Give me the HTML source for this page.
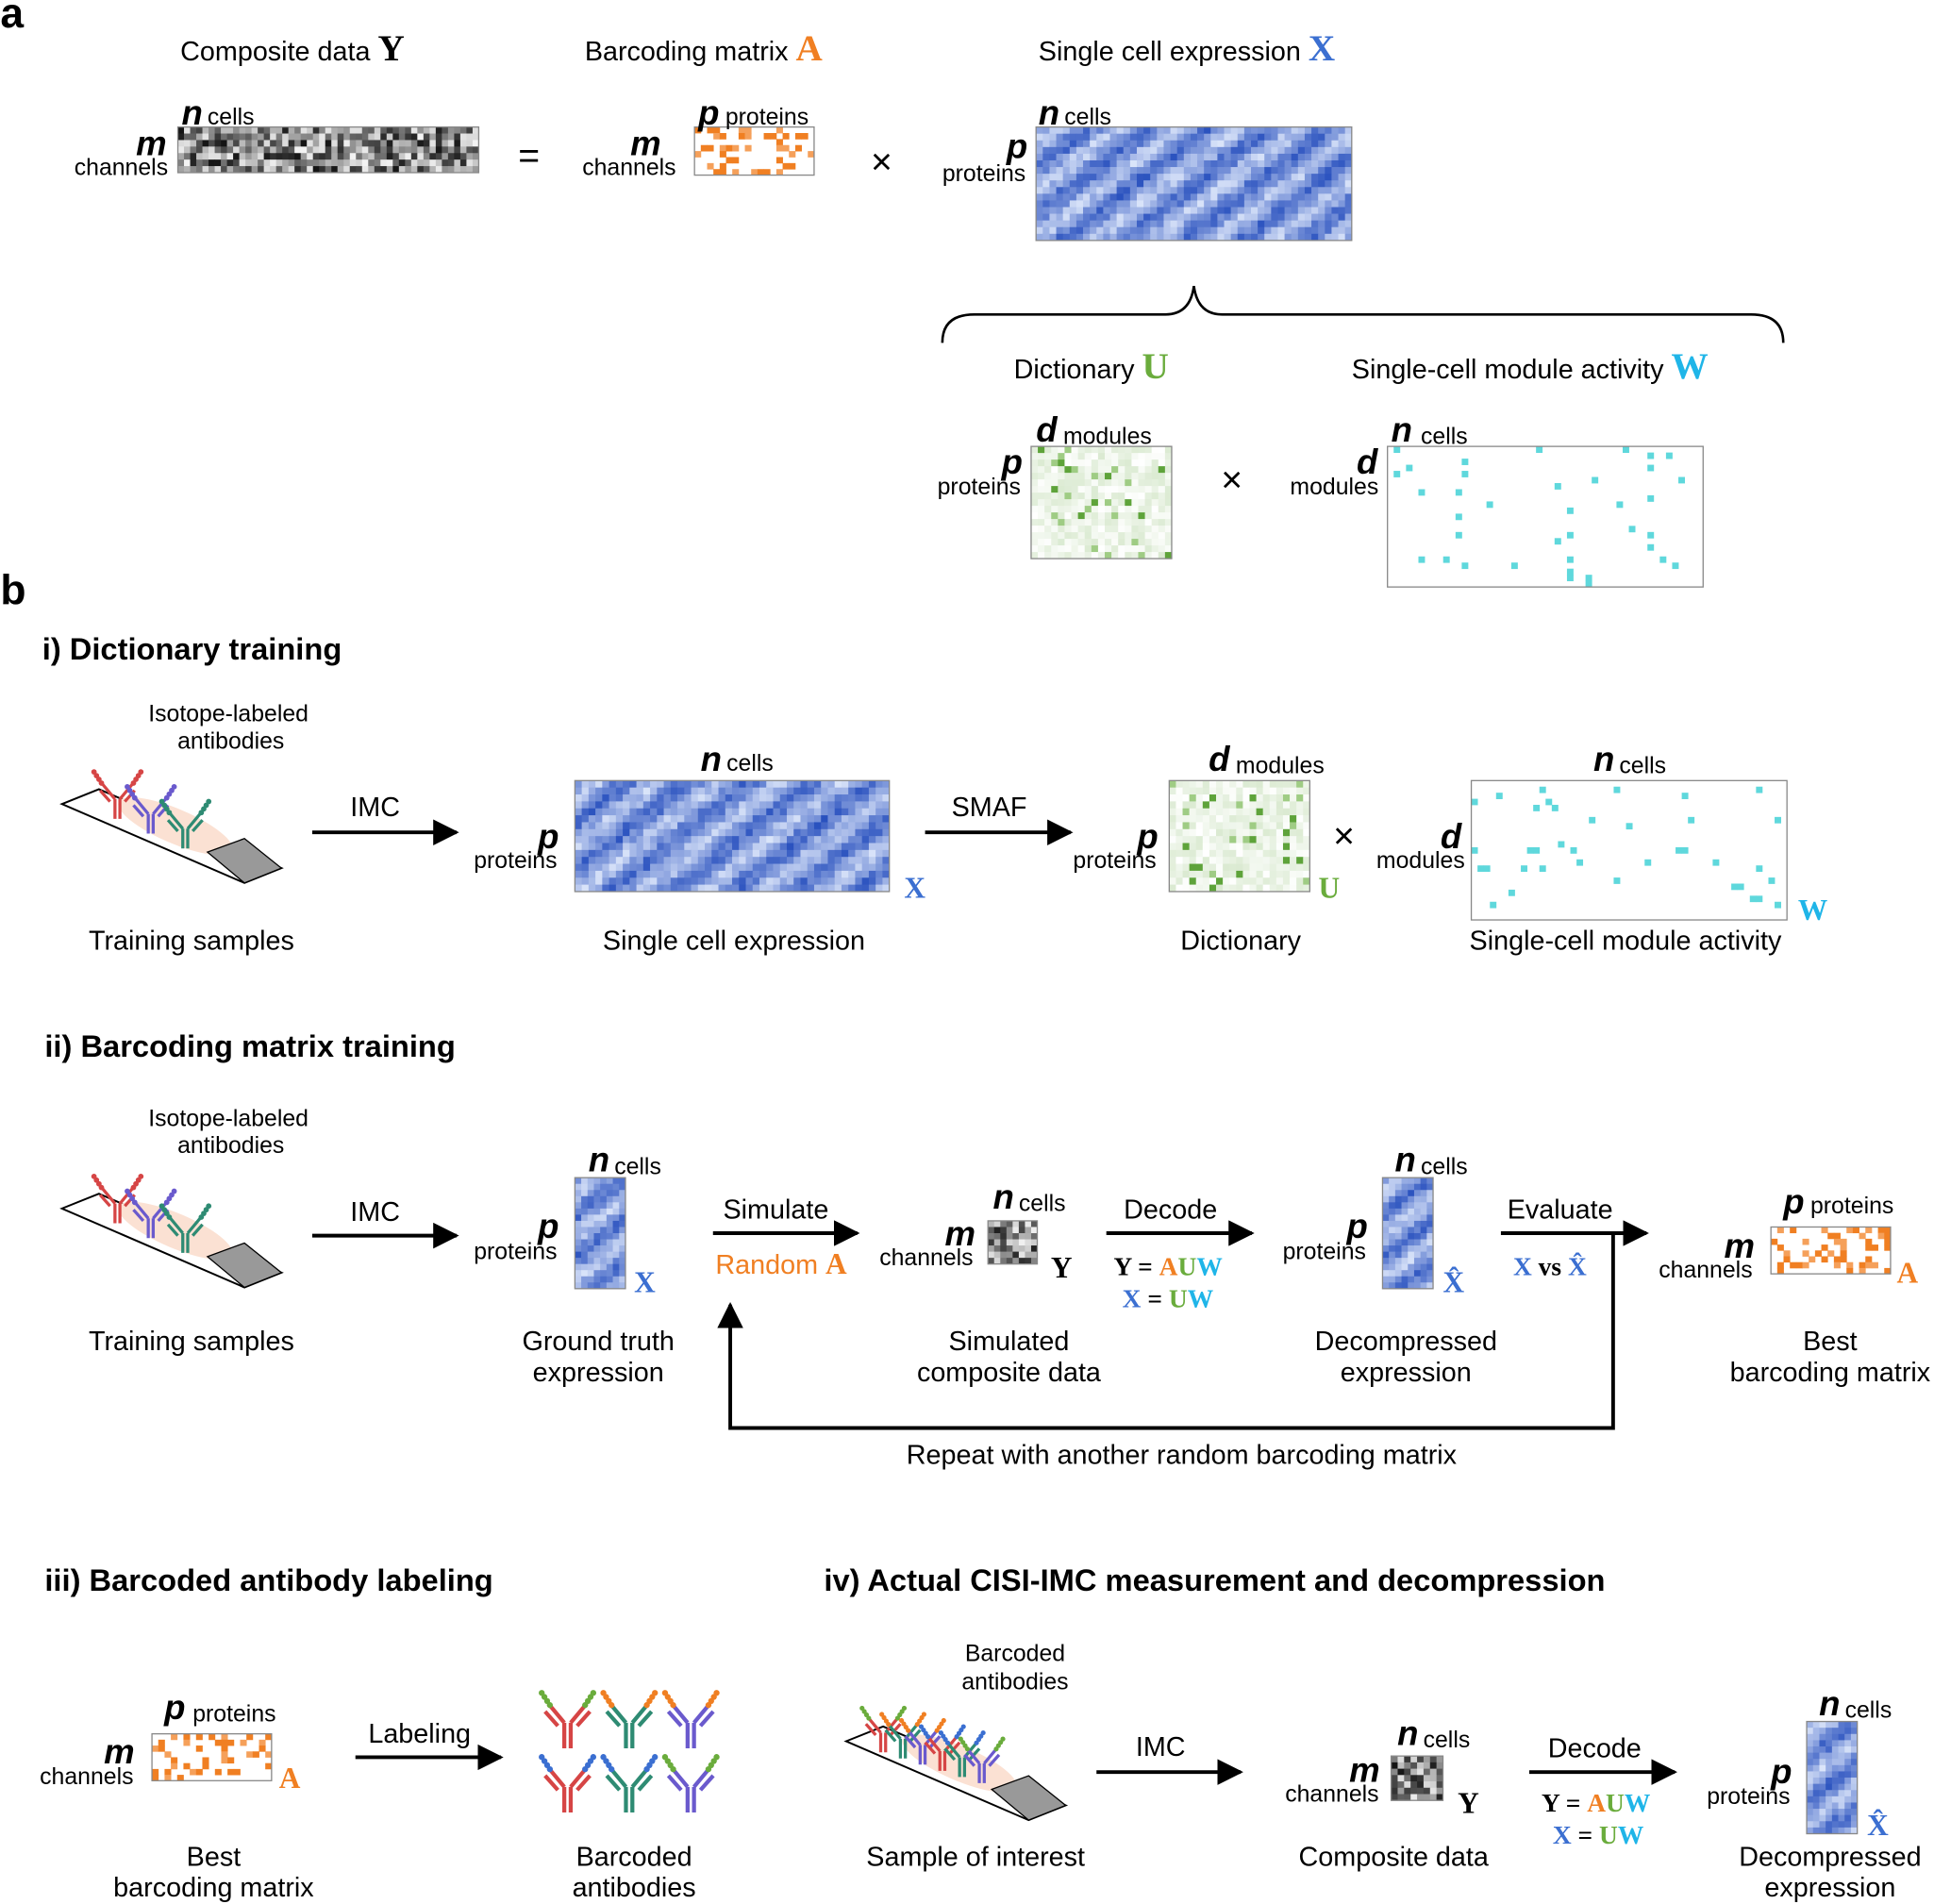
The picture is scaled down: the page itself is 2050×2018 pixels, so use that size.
<!DOCTYPE html>
<html><head><meta charset="utf-8">
<style>
html,body{margin:0;padding:0;background:#fff;}
svg{display:block;}
text{font-family:"Liberation Sans",sans-serif;fill:#000;}
.l{font-size:22px;}
.s{font-size:19px;}
.h{font-size:25px;font-weight:bold;}
.v{font-family:"Liberation Sans",sans-serif;font-size:28px;font-weight:bold;font-style:italic;}
.m{font-family:"Liberation Serif",serif;font-weight:bold;}
</style></head>
<body>
<svg id="s" width="2050" height="2018" viewBox="0 0 1568 1544" xmlns="http://www.w3.org/2000/svg">
<defs>
<marker id="ar" viewBox="0 0 10 10" refX="9" refY="5" markerWidth="7" markerHeight="7" orient="auto"><path d="M0,0 L10,5 L0,10 z" fill="#000"/></marker>
</defs>
<g id="mats"></g>
<g stroke="#000" stroke-width="3" fill="none">
<line x1="253" y1="675" x2="370" y2="675" marker-end="url(#ar)"/>
<line x1="750" y1="675" x2="868" y2="675" marker-end="url(#ar)"/>
<line x1="253" y1="1002" x2="370" y2="1002" marker-end="url(#ar)"/>
<line x1="578" y1="1000" x2="695" y2="1000" marker-end="url(#ar)"/>
<line x1="897" y1="1000" x2="1015" y2="1000" marker-end="url(#ar)"/>
<line x1="1217" y1="1000" x2="1335" y2="1000" marker-end="url(#ar)"/>
<polyline points="1308,1000 1308,1158 592,1158 592,1058" marker-end="url(#ar)"/>
<line x1="288" y1="1425" x2="406" y2="1425" marker-end="url(#ar)"/>
<line x1="889" y1="1437" x2="1006" y2="1437" marker-end="url(#ar)"/>
<line x1="1240" y1="1437" x2="1358" y2="1437" marker-end="url(#ar)"/>
<path d="M764,278 Q764,255 790,255 L945,255 Q965,255 968,232 Q971,255 991,255 L1420,255 Q1446,255 1446,278" stroke-width="2"/>
</g>
<g id="abs"></g>
<text x="0" y="22" style="font-size:34px;font-weight:bold">a</text>
<text x="0" y="490" style="font-size:34px;font-weight:bold">b</text>
<text x="146" y="49" class="l">Composite data <tspan class="m" style="font-size:30px">Y</tspan></text>
<text x="474" y="49" class="l">Barcoding matrix <tspan class="m" style="font-size:30px;fill:#f07f22">A</tspan></text>
<text x="842" y="49" class="l">Single cell expression <tspan class="m" style="font-size:30px;fill:#3b6fd1">X</tspan></text>
<text x="147" y="101" class="v">n</text><text x="168" y="101" class="s">cells</text>
<text x="110" y="126" class="v">m</text><text x="60" y="142" class="s">channels</text>
<text x="420" y="136" style="font-size:30px">=</text>
<text x="566" y="101" class="v">p</text><text x="588" y="101" class="s">proteins</text>
<text x="511" y="126" class="v">m</text><text x="472" y="142" class="s">channels</text>
<text x="706" y="141" style="font-size:30px">×</text>
<text x="842" y="101" class="v">n</text><text x="863" y="101" class="s">cells</text>
<text x="816" y="128" class="v">p</text><text x="764" y="147" class="s">proteins</text>
<text x="822" y="307" class="l">Dictionary <tspan class="m" style="font-size:30px;fill:#6aac3c">U</tspan></text>
<text x="1096" y="307" class="l">Single-cell module activity <tspan class="m" style="font-size:30px;fill:#1fb5e8">W</tspan></text>
<text x="840" y="358" class="v">d</text><text x="862" y="360" class="s">modules</text>
<text x="812" y="384" class="v">p</text><text x="760" y="401" class="s">proteins</text>
<text x="990" y="399" style="font-size:30px">×</text>
<text x="1128" y="358" class="v">n</text><text x="1152" y="360" class="s">cells</text>
<text x="1100" y="384" class="v">d</text><text x="1046" y="401" class="s">modules</text>

<text x="34" y="535" class="h">i) Dictionary training</text>
<text x="185" y="585" class="s" text-anchor="middle">Isotope-labeled</text>
<text x="187" y="607" class="s" text-anchor="middle">antibodies</text>
<text x="304" y="662" class="l" text-anchor="middle">IMC</text>
<text x="802" y="662" class="l" text-anchor="middle">SMAF</text>
<text x="568" y="625" class="v">n</text><text x="589" y="625" class="s">cells</text>
<text x="436" y="688" class="v">p</text><text x="384" y="704" class="s">proteins</text>
<text x="733" y="728" class="m" style="font-size:24px;fill:#3b6fd1">X</text>
<text x="980" y="625" class="v">d</text><text x="1002" y="627" class="s">modules</text>
<text x="922" y="688" class="v">p</text><text x="870" y="704" class="s">proteins</text>
<text x="1069" y="728" class="m" style="font-size:24px;fill:#6aac3c">U</text>
<text x="1081" y="688" style="font-size:30px">×</text>
<text x="1292" y="625" class="v">n</text><text x="1313" y="627" class="s">cells</text>
<text x="1168" y="688" class="v">d</text><text x="1116" y="704" class="s">modules</text>
<text x="1458" y="746" class="m" style="font-size:24px;fill:#1fb5e8">W</text>
<text x="155" y="770" class="l" text-anchor="middle">Training samples</text>
<text x="595" y="770" class="l" text-anchor="middle">Single cell expression</text>
<text x="1006" y="770" class="l" text-anchor="middle">Dictionary</text>
<text x="1318" y="770" class="l" text-anchor="middle">Single-cell module activity</text>

<text x="36" y="857" class="h">ii) Barcoding matrix training</text>
<text x="185" y="913" class="s" text-anchor="middle">Isotope-labeled</text>
<text x="187" y="935" class="s" text-anchor="middle">antibodies</text>
<text x="304" y="990" class="l" text-anchor="middle">IMC</text>
<text x="477" y="950" class="v">n</text><text x="498" y="952" class="s">cells</text>
<text x="436" y="1004" class="v">p</text><text x="384" y="1021" class="s">proteins</text>
<text x="514" y="1048" class="m" style="font-size:24px;fill:#3b6fd1">X</text>
<text x="629" y="988" class="l" text-anchor="middle">Simulate</text>
<text x="580" y="1033" class="l" style="fill:#f07f22">Random <tspan class="m" style="font-size:24px">A</tspan></text>
<text x="805" y="980" class="v">n</text><text x="826" y="982" class="s">cells</text>
<text x="766" y="1010" class="v">m</text><text x="713" y="1026" class="s">channels</text>
<text x="852" y="1036" class="m" style="font-size:24px">Y</text>
<text x="949" y="988" class="l" text-anchor="middle">Decode</text>
<text x="903" y="1034" class="m" style="font-size:21px">Y = <tspan fill="#f07f22">A</tspan><tspan fill="#6aac3c">U</tspan><tspan fill="#1fb5e8">W</tspan></text>
<text x="910" y="1060" class="m" style="font-size:21px"><tspan fill="#3b6fd1">X</tspan> = <tspan fill="#6aac3c">U</tspan><tspan fill="#1fb5e8">W</tspan></text>
<text x="1131" y="950" class="v">n</text><text x="1152" y="952" class="s">cells</text>
<text x="1092" y="1004" class="v">p</text><text x="1040" y="1021" class="s">proteins</text>
<text x="1170" y="1048" class="m" style="font-size:24px;fill:#3b6fd1">X̂</text>
<text x="1265" y="988" class="l" text-anchor="middle">Evaluate</text>
<text x="1227" y="1034" class="m" style="font-size:21px"><tspan fill="#3b6fd1">X</tspan> vs <tspan fill="#3b6fd1">X̂</tspan></text>
<text x="1446" y="984" class="v">p</text><text x="1468" y="984" class="s">proteins</text>
<text x="1398" y="1020" class="v">m</text><text x="1345" y="1036" class="s">channels</text>
<text x="1538" y="1040" class="m" style="font-size:24px;fill:#f07f22">A</text>
<text x="155" y="1095" class="l" text-anchor="middle">Training samples</text>
<text x="485" y="1095" class="l" text-anchor="middle">Ground truth</text>
<text x="485" y="1120" class="l" text-anchor="middle">expression</text>
<text x="818" y="1095" class="l" text-anchor="middle">Simulated</text>
<text x="818" y="1120" class="l" text-anchor="middle">composite data</text>
<text x="1140" y="1095" class="l" text-anchor="middle">Decompressed</text>
<text x="1140" y="1120" class="l" text-anchor="middle">expression</text>
<text x="1484" y="1095" class="l" text-anchor="middle">Best</text>
<text x="1484" y="1120" class="l" text-anchor="middle">barcoding matrix</text>
<text x="958" y="1187" class="l" text-anchor="middle">Repeat with another random barcoding matrix</text>

<text x="36" y="1290" class="h">iii) Barcoded antibody labeling</text>
<text x="668" y="1290" class="h">iv) Actual CISI-IMC measurement and decompression</text>
<text x="133" y="1394" class="v">p</text><text x="156" y="1396" class="s">proteins</text>
<text x="84" y="1430" class="v">m</text><text x="32" y="1447" class="s">channels</text>
<text x="226" y="1450" class="m" style="font-size:24px;fill:#f07f22">A</text>
<text x="340" y="1413" class="l" text-anchor="middle">Labeling</text>
<text x="173" y="1513" class="l" text-anchor="middle">Best</text>
<text x="173" y="1538" class="l" text-anchor="middle">barcoding matrix</text>
<text x="514" y="1513" class="l" text-anchor="middle">Barcoded</text>
<text x="514" y="1538" class="l" text-anchor="middle">antibodies</text>
<text x="823" y="1347" class="s" text-anchor="middle">Barcoded</text>
<text x="823" y="1370" class="s" text-anchor="middle">antibodies</text>
<text x="941" y="1424" class="l" text-anchor="middle">IMC</text>
<text x="791" y="1513" class="l" text-anchor="middle">Sample of interest</text>
<text x="1133" y="1415" class="v">n</text><text x="1154" y="1417" class="s">cells</text>
<text x="1094" y="1445" class="v">m</text><text x="1042" y="1461" class="s">channels</text>
<text x="1182" y="1470" class="m" style="font-size:24px">Y</text>
<text x="1130" y="1513" class="l" text-anchor="middle">Composite data</text>
<text x="1293" y="1425" class="l" text-anchor="middle">Decode</text>
<text x="1250" y="1469" class="m" style="font-size:21px">Y = <tspan fill="#f07f22">A</tspan><tspan fill="#6aac3c">U</tspan><tspan fill="#1fb5e8">W</tspan></text>
<text x="1259" y="1495" class="m" style="font-size:21px"><tspan fill="#3b6fd1">X</tspan> = <tspan fill="#6aac3c">U</tspan><tspan fill="#1fb5e8">W</tspan></text>
<text x="1475" y="1391" class="v">n</text><text x="1496" y="1393" class="s">cells</text>
<text x="1436" y="1446" class="v">p</text><text x="1384" y="1463" class="s">proteins</text>
<text x="1514" y="1488" class="m" style="font-size:24px;fill:#3b6fd1">X̂</text>
<text x="1484" y="1513" class="l" text-anchor="middle">Decompressed</text>
<text x="1484" y="1538" class="l" text-anchor="middle">expression</text>
</svg>
<script>
var seed=7;function r(){seed=(seed*16807)%2147483647;return seed/2147483647;}
var NS="http://www.w3.org/2000/svg",M=document.getElementById("mats"),AB=document.getElementById("abs");
function el(t,a,p){var e=document.createElementNS(NS,t);for(var k in a)e.setAttribute(k,a[k]);(p||M).appendChild(e);return e;}
function mat(x,y,w,h,cw,ch,fn){
 var nx=Math.round(w/cw),ny=Math.round(h/ch);cw=w/nx;ch=h/ny;
 el("rect",{x:x,y:y,width:w,height:h,fill:"#fff"});
 for(var i=0;i<ny;i++)for(var j=0;j<nx;j++){var c=fn(i,j);if(c)el("rect",{x:x+j*cw,y:y+i*ch,width:cw+0.3,height:ch+0.3,fill:c});}
 el("rect",{x:x,y:y,width:w,height:h,fill:"none",stroke:"#888","stroke-width":1});
}
function gray(){var v=Math.floor(20+r()*225);return "rgb("+v+","+v+","+v+")";}
function blue(i,j){var t=(Math.sin((j*0.7+i*0.9))+1)/2*0.6+r()*0.4;var R=Math.round(40+t*180),G=Math.round(80+t*150),B=Math.round(190+t*60);return "rgb("+R+","+G+","+Math.min(B,250)+")";}
function orange(i,j){return r()<0.3?(r()<0.6?"#f07f22":"#f5a05a"):null;}
function green(){var t=r();if(t<0.04)return "#5ea33a";if(t<0.1)return "#9fcc84";var v=t;return "rgb("+Math.round(215+v*40)+","+Math.round(232+v*23)+","+Math.round(205+v*50)+")";}
function cyan(){return r()<0.03?"#5fd8dc":null;}
mat(144,103,244,37,5,5,gray);
mat(563,103,97,39,5,5,orange);
mat(840,103,256,92,5.5,5.5,blue);
mat(836,362,114,91,5.5,5.5,green);
mat(1125,362,256,114,5,5,cyan);
mat(466,633,255,90,5.5,5.5,blue);
mat(948,633,114,90,5.5,5.5,green);
mat(1193,633,256,113,5,5,cyan);
mat(466,955,41,90,5,5,blue);
mat(801,990,40,35,5,5,gray);
mat(1121,955,41,90,5,5,blue);
mat(1436,995,97,38,5,5,orange);
mat(123,1406,97,38,5,5,orange);
mat(1128,1424,42,36,5,5,gray);
mat(1465,1396,41,91,5,5,blue);
function slide(x,y){
 el("polygon",{points:(x)+","+(y+12)+" "+(x+30)+","+(y)+" "+(x+178)+","+(y+64)+" "+(x+148)+","+(y+76),fill:"#fff",stroke:"#000","stroke-width":1.5},AB);
 el("ellipse",{cx:x+92,cy:y+30,rx:50,ry:14,fill:"#fbe1d3",transform:"rotate(23 "+(x+92)+" "+(y+30)+")"},AB);
 el("polygon",{points:(x+118)+","+(y+51)+" "+(x+148)+","+(y+40)+" "+(x+178)+","+(y+64)+" "+(x+148)+","+(y+76),fill:"#999",stroke:"#000","stroke-width":1},AB);
}
function ab(x,y,c,s){s=s||1;var g=el("g",{stroke:c,"stroke-width":2.5*s,fill:"none"},AB);
 el("path",{d:"M"+(x-2*s)+","+(y)+" L"+(x-2*s)+","+(y+16*s)+" M"+(x+2*s)+","+y+" L"+(x+2*s)+","+(y+16*s)+" M"+(x-2*s)+","+y+" L"+(x-12*s)+","+(y-12*s)+" M"+(x+2*s)+","+y+" L"+(x+12*s)+","+(y-12*s)+" M"+(x-6*s)+","+(y+2*s)+" L"+(x-14*s)+","+(y-7*s)+" M"+(x+6*s)+","+(y+2*s)+" L"+(x+14*s)+","+(y-7*s)},g);
}
function dots(x,y,c,s){s=s||1;for(var k=0;k<4;k++){el("circle",{cx:x-13*s-k*2*s,cy:y-13*s-k*3*s,r:2.2*s,fill:c},AB);el("circle",{cx:x+13*s+k*2*s,cy:y-13*s-k*3*s,r:2.2*s,fill:c},AB);}}
slide(50,640);slide(50,968);slide(686,1400);
[[95,648,"#d64545"],[122,660,"#6a5acd"],[150,672,"#2e8b73"]].forEach(function(a){ab(a[0],a[1],a[2]);dots(a[0],a[1],a[2]);});
[[95,976,"#d64545"],[122,988,"#6a5acd"],[150,1000,"#2e8b73"]].forEach(function(a){ab(a[0],a[1],a[2]);dots(a[0],a[1],a[2]);});
var cols=[["#d64545","#6aac3c"],["#2e8b73","#f07f22"],["#6a5acd","#f07f22"],["#d64545","#3b6fd1"],["#2e8b73","#3b6fd1"],["#6a5acd","#6aac3c"]];
for(var k=0;k<6;k++){var x=460+(k%3)*50,y=1397+Math.floor(k/3)*52;ab(x,y,cols[k][0],1.3);dots(x,y,cols[k][1],1.1);}
for(var k=0;k<6;k++){var x=716+k*16,y=1405+k*5;ab(x,y,cols[k][0],1);dots(x,y,cols[k][1],0.9);}
</script>
</body></html>
